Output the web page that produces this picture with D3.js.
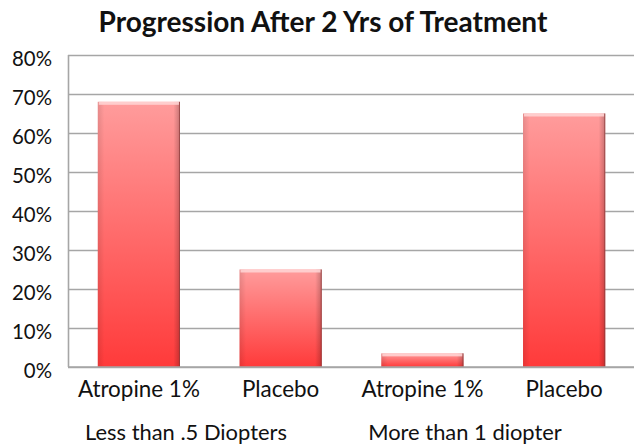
<!DOCTYPE html>
<html>
<head>
<meta charset="utf-8">
<script src="https://cdn.jsdelivr.net/npm/d3@7"></script>
<style>
  html, body { margin: 0; padding: 0; background: #fff; }
  svg { display: block; }
  text { font-family: Lato, "Open Sans", sans-serif; fill: #111; }
</style>
</head>
<body>
<svg id="chart" width="634" height="444"></svg>
<script>
// ---- data ----
const categories = ["Atropine 1%", "Placebo", "Atropine 1%", "Placebo"];
const values = [0.68, 0.25, 0.035, 0.65];
const groupLabels = ["Less than .5 Diopters", "More than 1 diopter"];
const yTicks = [0, 0.1, 0.2, 0.3, 0.4, 0.5, 0.6, 0.7, 0.8];
const title = "Progression After 2 Yrs of Treatment";

// ---- layout ----
const W = 634, H = 444;
const plot = { left: 68, right: 635, top: 55, bottom: 367 };

const svg = d3.select("#chart");

const defs = svg.append("defs");
const grad = defs.append("linearGradient")
  .attr("id", "barGrad").attr("x1", 0).attr("y1", 0).attr("x2", 0).attr("y2", 1);
grad.append("stop").attr("offset", "0%").attr("stop-color", "#ff9c9c");
grad.append("stop").attr("offset", "100%").attr("stop-color", "#ff3a3a");
const hgrad = defs.append("linearGradient")
  .attr("id", "edgeGrad").attr("x1", 0).attr("y1", 0).attr("x2", 1).attr("y2", 0);
hgrad.append("stop").attr("offset", "0%").attr("stop-color", "#000").attr("stop-opacity", 0.10);
hgrad.append("stop").attr("offset", "8%").attr("stop-color", "#000").attr("stop-opacity", 0);
hgrad.append("stop").attr("offset", "92%").attr("stop-color", "#000").attr("stop-opacity", 0);
hgrad.append("stop").attr("offset", "100%").attr("stop-color", "#000").attr("stop-opacity", 0.22);

const y = d3.scaleLinear().domain([0, 0.8]).range([plot.bottom, plot.top]);
const x = d3.scaleBand()
  .domain(d3.range(categories.length))
  .range([plot.left, plot.right])
  .paddingInner(0.42).paddingOuter(0.21);

// fit helper: scale font-size so rendered width matches target
function fit(sel, target) {
  sel.each(function() {
    const fs = parseFloat(this.getAttribute("font-size"));
    const w = this.getComputedTextLength();
    if (w > 0) this.setAttribute("font-size", (fs * target / w).toFixed(2));
  });
}

// gridlines via axis
const yAxis = d3.axisLeft(y).tickValues(yTicks).tickSize(-(plot.right - plot.left)).tickFormat(d3.format(".0%"));
const gy = svg.append("g").attr("transform", `translate(${plot.left},0)`).call(yAxis);
gy.select(".domain").remove();
gy.selectAll(".tick line").attr("stroke", "#a6a6a6").attr("stroke-width", 1.6);
gy.selectAll(".tick text")
  .attr("x", -16).attr("dy", "0.5em")
  .attr("font-size", 19).attr("fill", "#111")
  .style("font-family", "Lato, sans-serif");
fit(gy.selectAll(".tick text").filter(d => d === 0.7), 40);
const yfs = gy.selectAll(".tick text").filter(d => d === 0.7).attr("font-size");
gy.selectAll(".tick text").attr("font-size", yfs);

// left axis line
svg.append("line")
  .attr("x1", plot.left + 0.5).attr("x2", plot.left + 0.5)
  .attr("y1", y(0.8)).attr("y2", y(0))
  .attr("stroke", "#a6a6a6").attr("stroke-width", 1.6);

// bars
const bars = svg.append("g").selectAll("g").data(values).join("g");
bars.append("rect")
  .attr("x", (d, i) => x(i)).attr("width", x.bandwidth())
  .attr("y", d => y(d)).attr("height", d => y(0) - y(d))
  .attr("fill", "url(#barGrad)");
bars.append("rect")
  .attr("x", (d, i) => x(i)).attr("width", x.bandwidth())
  .attr("y", d => y(d)).attr("height", d => y(0) - y(d))
  .attr("fill", "url(#edgeGrad)");
bars.append("rect")
  .attr("x", (d, i) => x(i) + 1).attr("width", x.bandwidth() - 2)
  .attr("y", d => y(d)).attr("height", 3)
  .attr("fill", "#ffd6d6").attr("opacity", 0.85);
bars.append("line")
  .attr("x1", (d, i) => x(i) + x.bandwidth() - 0.5).attr("x2", (d, i) => x(i) + x.bandwidth() - 0.5)
  .attr("y1", d => y(d)).attr("y2", y(0))
  .attr("stroke", "#8a3a3a").attr("stroke-opacity", 0.7).attr("stroke-width", 1);

// baseline
svg.append("line")
  .attr("x1", plot.left).attr("x2", plot.right)
  .attr("y1", y(0)).attr("y2", y(0))
  .attr("stroke", "#a6a6a6").attr("stroke-width", 1.6);

// category labels
const cat = svg.append("g").selectAll("text").data(categories).join("text")
  .attr("x", (d, i) => x(i) + x.bandwidth() / 2)
  .attr("y", 397)
  .attr("text-anchor", "middle")
  .attr("font-size", 18)
  .text(d => d);
fit(cat.filter((d, i) => i === 0), 122);
const cfs = cat.filter((d, i) => i === 0).attr("font-size");
cat.attr("font-size", cfs);

// group labels
const groupX = [186, 465];
const grp = svg.append("g").selectAll("text").data(groupLabels).join("text")
  .attr("x", (d, i) => groupX[i])
  .attr("y", 440)
  .attr("text-anchor", "middle")
  .attr("font-size", 18)
  .text(d => d);
fit(grp.filter((d, i) => i === 0), 202);
const gfs = grp.filter((d, i) => i === 0).attr("font-size");
grp.attr("font-size", gfs);

// title
const t = svg.append("text")
  .attr("x", 323).attr("y", 32)
  .attr("text-anchor", "middle")
  .attr("font-size", 24).attr("font-weight", "bold")
  .text(title);
fit(t, 449);
</script>
</body>
</html>
